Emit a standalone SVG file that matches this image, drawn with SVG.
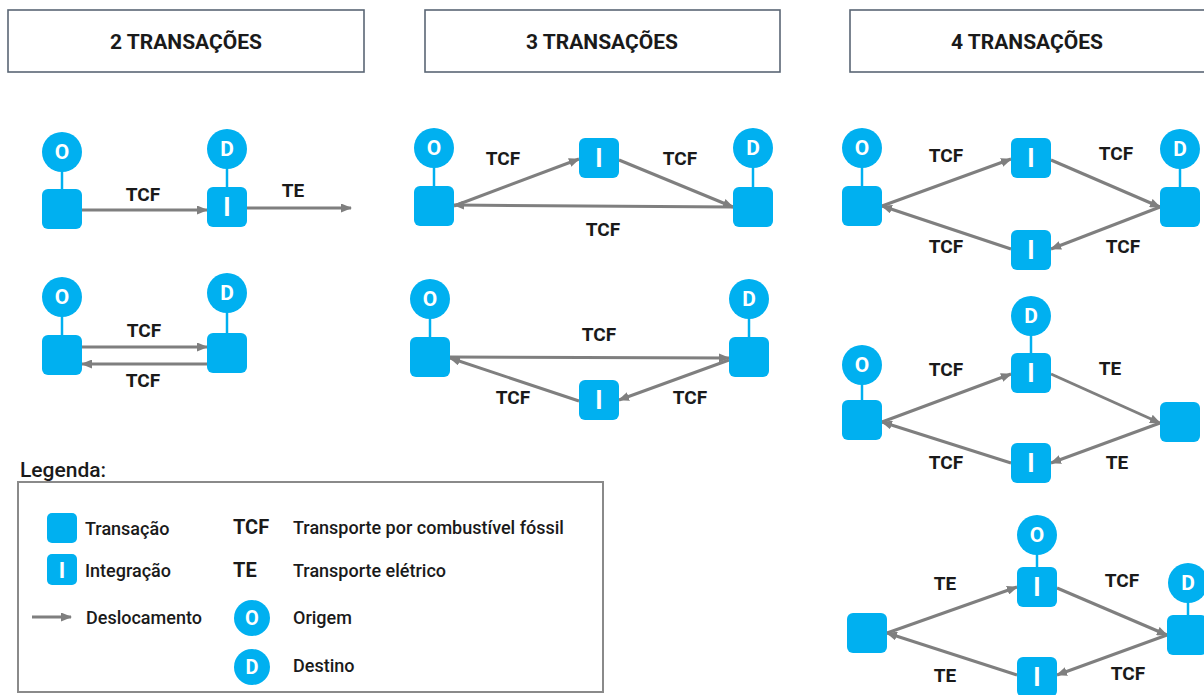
<svg xmlns="http://www.w3.org/2000/svg" width="1204" height="695" viewBox="0 0 1204 695">
<defs>
<marker id="ah" markerUnits="userSpaceOnUse" markerWidth="11" markerHeight="9" refX="10" refY="4.5" orient="auto">
<path d="M0,0 L11,4.5 L0,9 z" fill="#7f7f7f"/>
</marker>
</defs>
<style>
.hdr{fill:#fff;stroke:#5a6675;stroke-width:1.6}
.ht{font-family:Roboto,"Liberation Sans",sans-serif;font-weight:700;font-size:21px;fill:#1a1a1a;text-anchor:middle;dominant-baseline:central}
.sq{fill:#00b0f0}
.ci{fill:#00b0f0}
.st{stroke:#00b0f0;stroke-width:2.5}
.w{font-family:Roboto,"Liberation Sans",sans-serif;font-weight:700;fill:#fff;text-anchor:middle;dominant-baseline:central}
.wc{font-size:21px}
.wi{font-size:25px}
.lb{font-family:Roboto,"Liberation Sans",sans-serif;font-weight:700;font-size:19px;fill:#1a1a1a;text-anchor:middle;dominant-baseline:central}
.ar{stroke:#7f7f7f;stroke-width:3;fill:none;marker-end:url(#ah)}
.lt{font-family:Roboto,"Liberation Sans",sans-serif;font-weight:500;font-size:18px;fill:#1a1a1a;dominant-baseline:central}
.lk{font-family:Roboto,"Liberation Sans",sans-serif;font-weight:700;font-size:20px;fill:#1a1a1a;dominant-baseline:central}
</style>

<g id="headers">
<g id="h2"><rect class="hdr" x="8" y="10" width="356" height="62"/><text class="ht" x="186" y="42">2 TRANSAÇÕES</text></g>
<g id="h3"><rect class="hdr" x="425" y="10" width="355" height="62"/><text class="ht" x="602" y="42">3 TRANSAÇÕES</text></g>
<g id="h4"><rect class="hdr" x="850" y="10" width="360" height="62"/><text class="ht" x="1027" y="42">4 TRANSAÇÕES</text></g>
</g>

<g id="connectors">
<line class="ar" x1="82" y1="210" x2="207" y2="210"/>
<line class="ar" x1="247" y1="208" x2="351" y2="208"/>
<line class="ar" x1="82" y1="347" x2="207" y2="347"/>
<line class="ar" x1="207" y1="364" x2="82" y2="364"/>
<line class="ar" x1="454" y1="206" x2="579" y2="159"/>
<line class="ar" x1="619" y1="160" x2="733" y2="207"/>
<line class="ar" x1="733" y1="207" x2="454" y2="205"/>
<line class="ar" x1="450" y1="357" x2="729" y2="358"/>
<line class="ar" x1="729" y1="360" x2="619" y2="400"/>
<line class="ar" x1="579" y1="401" x2="450" y2="358"/>
<line class="ar" x1="882" y1="206" x2="1011" y2="159"/>
<line class="ar" x1="1051" y1="160" x2="1160" y2="207"/>
<line class="ar" x1="1160" y1="207" x2="1051" y2="249"/>
<line class="ar" x1="1011" y1="249" x2="882" y2="206"/>
<line class="ar" x1="882" y1="422" x2="1011" y2="374"/>
<line class="ar" x1="1051" y1="374" x2="1160" y2="423"/>
<line class="ar" x1="1160" y1="423" x2="1051" y2="463"/>
<line class="ar" x1="1011" y1="463" x2="882" y2="422"/>
<line class="ar" x1="887" y1="633" x2="1017" y2="587"/>
<line class="ar" x1="1057" y1="588" x2="1167" y2="635"/>
<line class="ar" x1="1167" y1="635" x2="1057" y2="675"/>
<line class="ar" x1="1017" y1="675" x2="887" y2="633"/>
<line class="ar" x1="32" y1="617" x2="71" y2="617"/>
</g>

<g id="labels">
<text class="lb" x="143" y="194">TCF</text>
<text class="lb" x="293" y="190">TE</text>
<text class="lb" x="144" y="330">TCF</text>
<text class="lb" x="143" y="380">TCF</text>
<text class="lb" x="503" y="158">TCF</text>
<text class="lb" x="680" y="158">TCF</text>
<text class="lb" x="603" y="229">TCF</text>
<text class="lb" x="599" y="334">TCF</text>
<text class="lb" x="513" y="397">TCF</text>
<text class="lb" x="690" y="397">TCF</text>
<text class="lb" x="946" y="155">TCF</text>
<text class="lb" x="1116" y="153">TCF</text>
<text class="lb" x="946" y="246">TCF</text>
<text class="lb" x="1123" y="246">TCF</text>
<text class="lb" x="946" y="369">TCF</text>
<text class="lb" x="1110" y="368">TE</text>
<text class="lb" x="946" y="462">TCF</text>
<text class="lb" x="1117" y="462">TE</text>
<text class="lb" x="945" y="583">TE</text>
<text class="lb" x="1122" y="580">TCF</text>
<text class="lb" x="945" y="675">TE</text>
<text class="lb" x="1128" y="673">TCF</text>
</g>

<g id="p1a-o"><line class="st" x1="62" y1="170" x2="62" y2="190"/><circle class="ci" cx="62" cy="152" r="20"/><text class="w wc" x="62" y="152">O</text></g>
<g id="p1a-t1"><rect class="sq" x="42" y="189" width="40" height="40" rx="6"/></g>
<g id="p1a-d"><line class="st" x1="227" y1="167" x2="227" y2="188"/><circle class="ci" cx="227" cy="149" r="20"/><text class="w wc" x="227" y="149">D</text></g>
<g id="p1a-i"><rect class="sq" x="207" y="187" width="40" height="40" rx="6"/><text class="w wi" x="227" y="207">I</text></g>

<g id="p1b-o"><line class="st" x1="62" y1="315" x2="62" y2="336"/><circle class="ci" cx="62" cy="297" r="20"/><text class="w wc" x="62" y="297">O</text></g>
<g id="p1b-t1"><rect class="sq" x="42" y="335" width="40" height="40" rx="6"/></g>
<g id="p1b-d"><line class="st" x1="227" y1="311" x2="227" y2="334"/><circle class="ci" cx="227" cy="293" r="20"/><text class="w wc" x="227" y="293">D</text></g>
<g id="p1b-t2"><rect class="sq" x="207" y="333" width="40" height="40" rx="6"/></g>

<g id="p2a-o"><line class="st" x1="434" y1="166" x2="434" y2="187"/><circle class="ci" cx="434" cy="148" r="20"/><text class="w wc" x="434" y="148">O</text></g>
<g id="p2a-t1"><rect class="sq" x="414" y="186" width="40" height="40" rx="6"/></g>
<g id="p2a-i"><rect class="sq" x="579" y="138" width="40" height="40" rx="6"/><text class="w wi" x="599" y="158">I</text></g>
<g id="p2a-d"><line class="st" x1="753" y1="166" x2="753" y2="188"/><circle class="ci" cx="753" cy="148" r="20"/><text class="w wc" x="753" y="148">D</text></g>
<g id="p2a-t2"><rect class="sq" x="733" y="187" width="40" height="40" rx="6"/></g>

<g id="p2b-o"><line class="st" x1="430" y1="317" x2="430" y2="338"/><circle class="ci" cx="430" cy="299" r="20"/><text class="w wc" x="430" y="299">O</text></g>
<g id="p2b-t1"><rect class="sq" x="410" y="337" width="40" height="40" rx="6"/></g>
<g id="p2b-d"><line class="st" x1="749" y1="317" x2="749" y2="338"/><circle class="ci" cx="749" cy="299" r="20"/><text class="w wc" x="749" y="299">D</text></g>
<g id="p2b-t2"><rect class="sq" x="729" y="337" width="40" height="40" rx="6"/></g>
<g id="p2b-i"><rect class="sq" x="579" y="380" width="40" height="40" rx="6"/><text class="w wi" x="599" y="400">I</text></g>

<g id="p3a-o"><line class="st" x1="862" y1="166" x2="862" y2="187"/><circle class="ci" cx="862" cy="148" r="20"/><text class="w wc" x="862" y="148">O</text></g>
<g id="p3a-t1"><rect class="sq" x="842" y="186" width="40" height="40" rx="6"/></g>
<g id="p3a-i1"><rect class="sq" x="1011" y="138" width="40" height="40" rx="6"/><text class="w wi" x="1031" y="158">I</text></g>
<g id="p3a-d"><line class="st" x1="1180" y1="167" x2="1180" y2="188"/><circle class="ci" cx="1180" cy="149" r="20"/><text class="w wc" x="1180" y="149">D</text></g>
<g id="p3a-t2"><rect class="sq" x="1160" y="187" width="40" height="40" rx="6"/></g>
<g id="p3a-i2"><rect class="sq" x="1011" y="230" width="40" height="40" rx="6"/><text class="w wi" x="1031" y="250">I</text></g>

<g id="p3b-o"><line class="st" x1="862" y1="383" x2="862" y2="401"/><circle class="ci" cx="862" cy="365" r="20"/><text class="w wc" x="862" y="365">O</text></g>
<g id="p3b-t1"><rect class="sq" x="842" y="400" width="40" height="40" rx="6"/></g>
<g id="p3b-d"><line class="st" x1="1031" y1="334" x2="1031" y2="354"/><circle class="ci" cx="1031" cy="316" r="20"/><text class="w wc" x="1031" y="316">D</text></g>
<g id="p3b-i1"><rect class="sq" x="1011" y="353" width="40" height="40" rx="6"/><text class="w wi" x="1031" y="373">I</text></g>
<g id="p3b-t2"><rect class="sq" x="1160" y="402" width="40" height="40" rx="6"/></g>
<g id="p3b-i2"><rect class="sq" x="1011" y="443" width="40" height="40" rx="6"/><text class="w wi" x="1031" y="463">I</text></g>

<g id="p3c-o"><line class="st" x1="1037" y1="553" x2="1037" y2="568"/><circle class="ci" cx="1037" cy="535" r="20"/><text class="w wc" x="1037" y="535">O</text></g>
<g id="p3c-i1"><rect class="sq" x="1017" y="567" width="40" height="40" rx="6"/><text class="w wi" x="1037" y="587">I</text></g>
<g id="p3c-t1"><rect class="sq" x="847" y="613" width="40" height="40" rx="6"/></g>
<g id="p3c-d"><line class="st" x1="1188" y1="601" x2="1188" y2="616"/><circle class="ci" cx="1188" cy="583" r="20"/><text class="w wc" x="1188" y="583">D</text></g>
<g id="p3c-t2"><rect class="sq" x="1167" y="615" width="40" height="40" rx="6"/></g>
<g id="p3c-i2"><rect class="sq" x="1017" y="657" width="40" height="40" rx="6"/><text class="w wi" x="1037" y="677">I</text></g>

<g id="legend">
<text x="20" y="470" font-family="Roboto, 'Liberation Sans', sans-serif" font-weight="500" font-size="21" fill="#1a1a1a" dominant-baseline="central">Legenda:</text>
<rect x="18" y="482" width="585" height="210" fill="none" stroke="#8a8a8a" stroke-width="2"/>
<rect class="sq" x="47" y="513" width="30" height="30" rx="5"/>
<text class="lt" x="85" y="528">Transação</text>
<rect class="sq" x="47" y="554" width="30" height="31" rx="5"/>
<text class="w" font-size="22" x="62" y="570">I</text>
<text class="lt" x="85" y="570">Integração</text>
<text class="lt" x="86" y="617">Deslocamento</text>
<text class="lk" x="233" y="527">TCF</text>
<text class="lt" x="293" y="527">Transporte por combustível fóssil</text>
<text class="lk" x="233" y="570">TE</text>
<text class="lt" x="293" y="570">Transporte elétrico</text>
<circle class="ci" cx="252" cy="618" r="18"/>
<text class="w" font-size="20" x="252" y="618">O</text>
<text class="lt" x="293" y="617">Origem</text>
<circle class="ci" cx="252" cy="667" r="18"/>
<text class="w" font-size="20" x="252" y="667">D</text>
<text class="lt" x="293" y="665">Destino</text>
</g>
</svg>
